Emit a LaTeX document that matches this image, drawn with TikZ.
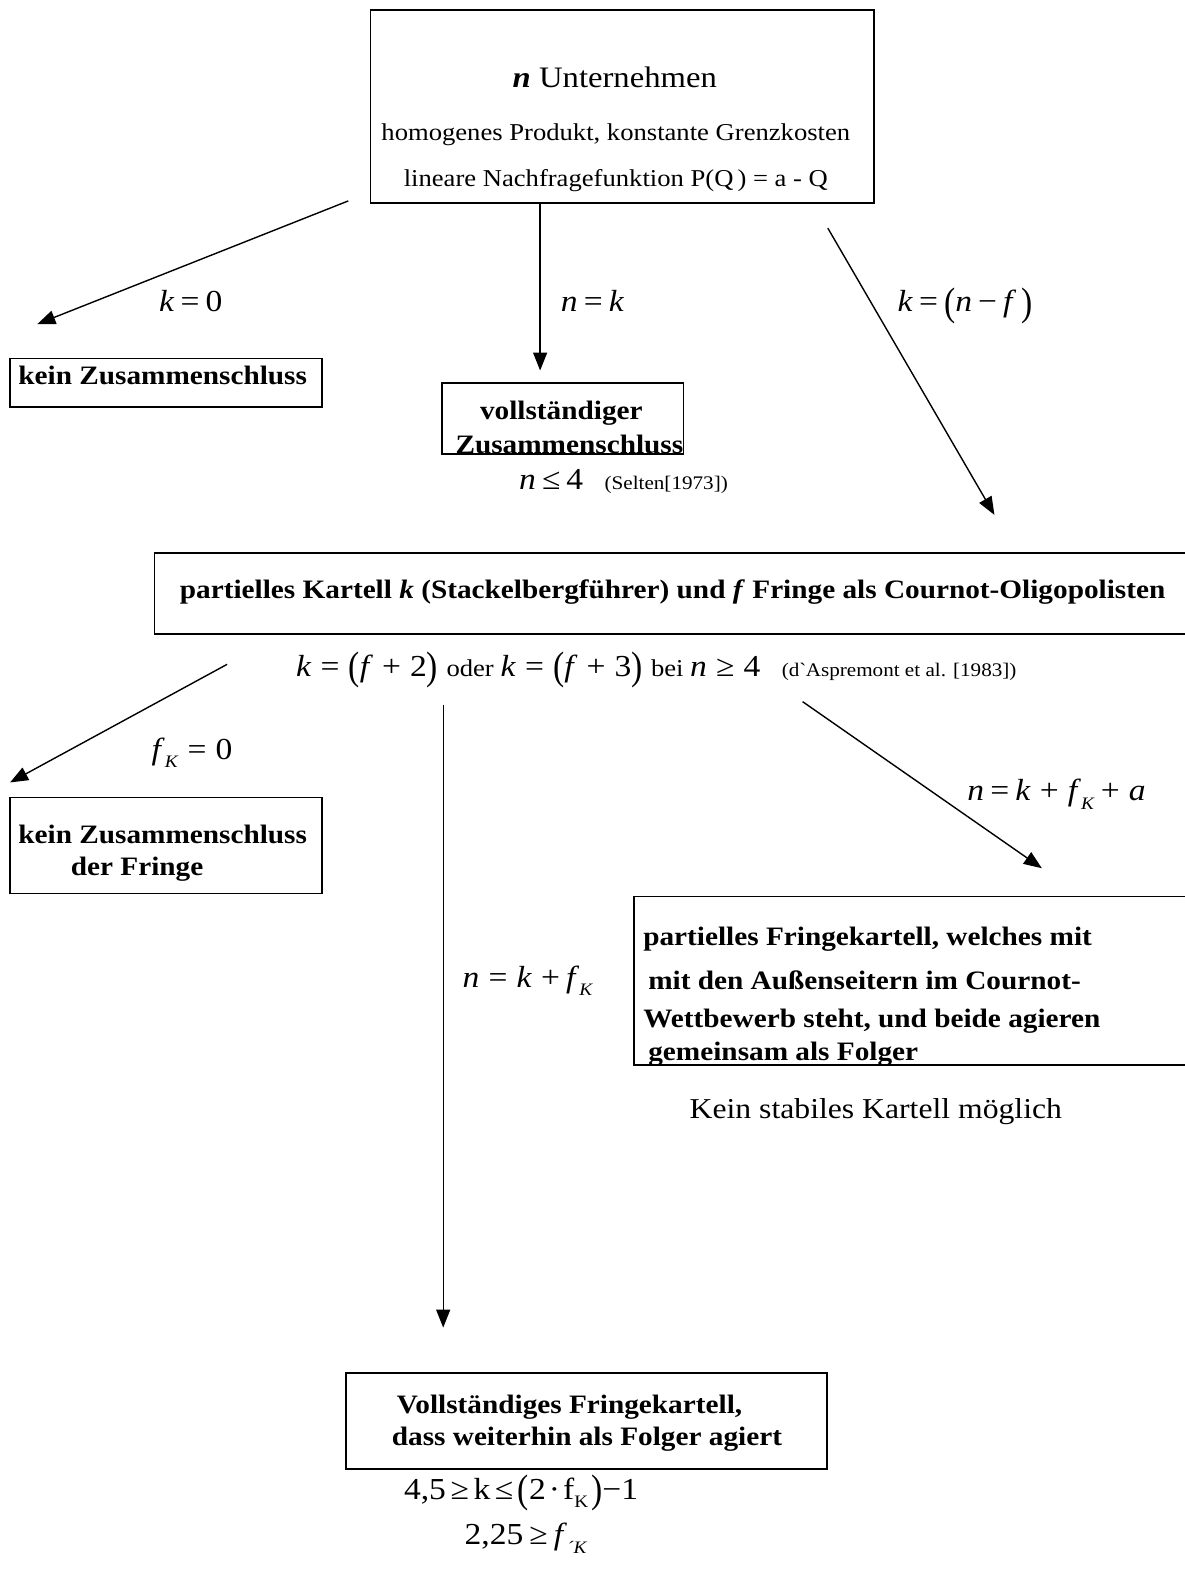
\documentclass[tikz,border=0pt]{standalone}
\usepackage{fontspec}
\setmainfont{Liberation Serif}[FakeStretch=1.1]
\usetikzlibrary{arrows.meta,fit}
\newcommand\fs[1]{\fontsize{#1}{#1}\selectfont}
\newcommand\mv[1]{\textit{#1}}
\newcommand\msp{\hspace{0.2em}}
\newcommand\wsp{\hspace{0.3em}}
\newcommand\nsp{\hspace{0.1em}}
\newcommand\esp{\hspace{0.15em}}
\newcommand\lp{\raisebox{-0.1em}{\scalebox{1}[1.3]{(}}}
\newcommand\rp{\raisebox{-0.1em}{\scalebox{1}[1.3]{)}}}
\newcommand\sbK[1]{\raisebox{-0.28em}{\fs{#1}\mv{K}}}
\begin{document}
\begin{tikzpicture}[x=1.0094pt,y=-1.0094pt,
  boxst/.style={draw,line width=1.8pt,inner sep=0pt},
  txt/.style={inner sep=0pt,anchor=base},
  txtl/.style={inner sep=0pt,anchor=base west},
  arr/.style={line width=1.4pt,-{Triangle[length=18pt,width=14pt]}}]
\useasboundingbox (0,0) rectangle (1173,1568);
\fill[white] (0,0) rectangle (1173,1568);

% boxes
\node[boxst,fit={(367,10) (866,201)}] (top) {};
\node[boxst,fit={(10,355) (319,403)}] (kein) {};
\node[boxst,fit={(438,379) (677,450)}] (voll) {};
\node[boxst,fit={(153,548) (1177,628)}] (part) {};
\node[boxst,fit={(10,790) (319,885)}] (keinf) {};
\node[boxst,fit={(628,888) (1177,1055)}] (pfk) {};
\node[boxst,fit={(343,1360) (819,1455)}] (vfk) {};

% top box text
\node[txt] (t1) at (609,87) {\fs{29.7}\textbf{\textit{n}} Unternehmen};
\node[txt] (t2) at (610,139) {\fs{24.2}homogenes Produkt, konstante Grenzkosten};
\node[txt] (t3) at (610,185) {\fs{24.2}lineare Nachfragefunktion P(Q\,) = a - Q};

% first-level labels
\node[txt] (l1) at (189,309) {\fs{30.5}\mv{k}\msp=\msp0};
\node[txt] (l2) at (587,309) {\fs{30.5}\mv{n}\msp=\msp\mv{k}};
\node[txt] (l3) at (956,309) {\fs{30.5}\mv{k}\msp=\msp\lp\mv{n}\msp−\msp\mv{f}\,\rp};

% first-level boxes text
\node[txtl] (k1) at (18,381) {\fs{26.6}\textbf{kein Zusammenschluss}};
\node[txt] (v1) at (556,416) {\fs{26.6}\textbf{vollständiger}};
\node[txt] (v2) at (564,449) {\fs{26.6}\textbf{Zusammenschluss}};
\node[txtl] (s1) at (514,485) {\fs{30.5}\mv{n}\msp≤\msp4\hspace{0.7em}\fs{19.2}(Selten[1973])};

% partial cartel
\node[txtl] (p1) at (178,593) {\fs{26.6}\textbf{partielles Kartell \textit{k} (Stackelbergführer) und \textit{f} Fringe als Cournot-Oligopolisten}};
\node[txtl] (p2) at (293,670) {\fs{30.5}\mv{k}\wsp=\wsp\lp\mv{f}\wsp+\wsp2\rp\ \fs{24.2}oder \fs{30.5}\mv{k}\wsp=\wsp\lp\mv{f}\wsp+\wsp3\rp\ \fs{24.2}bei \fs{30.5}\mv{n}\wsp≥\wsp4\hspace{0.7em}\fs{19.2}(d\textasciigrave Aspremont et al. [1983])};

% second-level labels
\node[txtl] (f1) at (150,752) {\fs{30.5}\mv{f}\sbK{17.5}\wsp=\wsp0};
\node[txtl] (f2) at (958,793) {\fs{30.5}\mv{n}\msp=\msp\mv{k}\wsp+\wsp\mv{f}\sbK{17.5}\msp+\wsp\mv{a}};
\node[txtl] (f3) at (458,978) {\fs{30.5}\mv{n}\wsp=\wsp\mv{k}\wsp+\msp\mv{f}\sbK{17.5}};

% second-level boxes text
\node[txtl] (kf1) at (18,835) {\fs{26.6}\textbf{kein Zusammenschluss}};
\node[txtl] (kf2) at (70,867) {\fs{26.6}\textbf{der Fringe}};

\node[txtl] (q1) at (637,937) {\fs{26.6}\textbf{partielles Fringekartell, welches mit}};
\node[txtl] (q2) at (642,980) {\fs{26.6}\textbf{mit den Außenseitern im Cournot-}};
\node[txtl] (q3) at (637,1018) {\fs{26.6}\textbf{Wettbewerb steht, und beide agieren}};
\node[txtl] (q4) at (642,1050) {\fs{26.6}\textbf{gemeinsam als Folger}};
\node[txtl] (q5) at (683,1108) {\fs{28.8}Kein stabiles Kartell möglich};

\node[txtl] (w1) at (393,1400) {\fs{26.6}\textbf{Vollständiges Fringekartell,}};
\node[txtl] (w2) at (388,1432) {\fs{26.6}\textbf{dass weiterhin als Folger agiert}};

\node[txtl] (e1) at (400,1485) {\fs{30.5}4,5\esp≥\esp k\esp≤\esp\lp 2\nsp·\nsp f\raisebox{-0.28em}{\fs{17.5}K}\nsp\rp−1};
\node[txtl] (e2) at (460,1530) {\fs{30.5}2,25\msp≥\msp\mv{f}\raisebox{-0.28em}{\fs{17.5}\mv{´K}}};

% connectors
\coordinate (a1s) at (345,199);
\coordinate (a1e) at (37,321);
\coordinate (a2e) at (535,367);
\coordinate (a3s) at (820,226);
\coordinate (a3e) at (985,510);
\coordinate (a4s) at (225,658);
\coordinate (a4e) at (10,775);
\coordinate (a5s) at (439,698);
\coordinate (a5e) at (439,1315);
\coordinate (a6s) at (795,695);
\coordinate (a6e) at (1032,860);

\draw[arr] (a1s) -- (a1e);
\draw[arr] (top.south -| a2e) -- (a2e);
\draw[arr] (a3s) -- (a3e);
\draw[arr] (a4s) -- (a4e);
\draw[arr] (a5s) -- (a5e);
\draw[arr] (a6s) -- (a6e);
\end{tikzpicture}
\end{document}
